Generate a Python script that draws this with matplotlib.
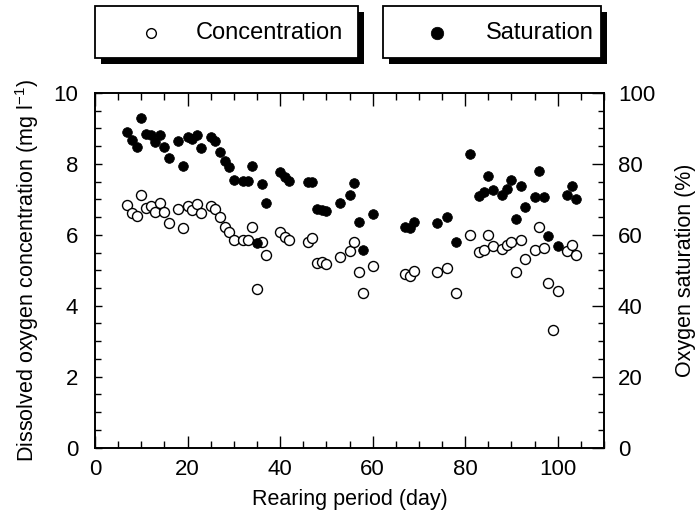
import matplotlib
matplotlib.use("Agg")
import matplotlib.pyplot as plt
import numpy as np
from matplotlib.patches import Rectangle
from matplotlib.lines import Line2D
from matplotlib.ticker import MultipleLocator

plt.rcParams['font.family'] = ['Liberation Sans', 'DejaVu Sans']
plt.rcParams['mathtext.default'] = 'regular'

days = [7, 8, 9, 10, 11, 12, 13, 14, 15, 16, 18, 19, 20, 21, 22, 23, 25, 26, 27, 28,
        29, 30, 32, 33, 34, 35, 36, 37, 40, 41, 42, 46, 47, 48, 49, 50, 53, 55, 56, 57,
        58, 60, 67, 68, 69, 74, 76, 78, 81, 83, 84, 85, 86, 88, 89, 90, 91, 92, 93, 95,
        96, 97, 98, 99, 100, 102, 103, 104]
concentration = [6.84, 6.61, 6.52, 7.13, 6.75, 6.82, 6.63, 6.89, 6.63, 6.33, 6.72, 6.18,
                 6.80, 6.70, 6.87, 6.61, 6.82, 6.72, 6.50, 6.23, 6.09, 5.84, 5.84, 5.84,
                 6.22, 4.48, 5.81, 5.43, 6.07, 5.95, 5.84, 5.81, 5.91, 5.20, 5.23, 5.17,
                 5.37, 5.53, 5.81, 4.94, 4.36, 5.13, 4.90, 4.83, 4.99, 4.94, 5.06, 4.37,
                 6.00, 5.51, 5.58, 6.00, 5.69, 5.60, 5.72, 5.81, 4.95, 5.86, 5.33, 5.58,
                 6.21, 5.64, 4.64, 3.32, 4.42, 5.53, 5.72, 5.44]
saturation = [89.1, 86.8, 84.9, 92.9, 88.5, 88.2, 86.3, 88.2, 84.9, 81.6, 86.6, 79.4,
              87.7, 87.0, 88.2, 84.6, 87.7, 86.6, 83.3, 80.7, 79.0, 75.5, 75.3, 75.3,
              79.4, 57.7, 74.3, 69.1, 77.8, 76.4, 75.2, 75.0, 75.0, 67.2, 66.9, 66.6,
              69.1, 71.3, 74.7, 63.7, 55.8, 65.8, 62.3, 61.9, 63.7, 63.3, 65.0, 58.1,
              82.8, 71.0, 72.0, 76.6, 72.5, 71.1, 72.9, 75.5, 64.4, 73.8, 67.8, 70.6,
              78.1, 70.6, 59.7, np.nan, 56.7, 71.3, 73.8, 70.0]

legend_labels = ["Concentration", "Saturation"]

W, H = 698, 516
fig = plt.figure(figsize=(W / 100, H / 100), dpi=100)
ax = fig.add_axes([95 / W, 1 - 447.5 / H, (604 - 95) / W, (447.5 - 93) / H])
ax2 = ax.twinx()

ax.plot(days, concentration, 'o', mfc='white', mec='black', ms=7.2, mew=1.0,
        linestyle='none', zorder=3, clip_on=False)
ax2.plot(days, saturation, 'o', mfc='black', mec='black', ms=7.0, mew=0.5,
         linestyle='none', zorder=3, clip_on=False)

ax.set_xlim(0, 110)
ax.set_ylim(0, 10)
ax2.set_ylim(0, 100)

ax.xaxis.set_major_locator(MultipleLocator(20))
ax.xaxis.set_minor_locator(MultipleLocator(5))
ax.yaxis.set_major_locator(MultipleLocator(2))
ax.yaxis.set_minor_locator(MultipleLocator(0.5))
ax2.yaxis.set_major_locator(MultipleLocator(20))
ax2.yaxis.set_minor_locator(MultipleLocator(5))

ax.tick_params(axis='both', which='both', direction='in', width=1.0, labelsize=16,
               top=True, right=False)
ax.tick_params(axis='x', which='major', length=9, pad=8)
ax.tick_params(axis='x', which='minor', length=5)
ax.tick_params(axis='y', which='major', length=5, pad=12)
ax.tick_params(axis='y', which='minor', length=4)
ax2.tick_params(axis='y', which='both', direction='in', width=1.0, labelsize=16)
ax2.tick_params(axis='y', which='major', length=9, pad=10)
ax2.tick_params(axis='y', which='minor', length=4)

for a in (ax, ax2):
    for s in a.spines.values():
        s.set_linewidth(1.2)

ax.set_xlabel("Rearing period (day)", fontsize=15.5, labelpad=7)
ax.set_ylabel("Dissolved oxygen concentration (mg l$^{-1}$)", fontsize=15.5, labelpad=9)
ax2.set_ylabel("Oxygen saturation (%)", fontsize=15.5, labelpad=14)


def fig_rect(x0, y0, x1, y1, **kw):
    return Rectangle((x0 / W, 1 - y1 / H), (x1 - x0) / W, (y1 - y0) / H,
                     transform=fig.transFigure, **kw)


boxes = [(95, 6, 358, 58), (383, 6, 601, 58)]
marker_x = [151, 437]
text_x = [196, 486]
styles = [dict(mfc='white', mec='black', ms=7, mew=1.0),
          dict(mfc='black', mec='black', ms=9, mew=0.5)]
off = 6
for (x0, y0, x1, y1), mx, tx, st, lab in zip(boxes, marker_x, text_x, styles, legend_labels):
    fig.add_artist(fig_rect(x0 + off, y0 + off, x1 + off, y1 + off,
                            facecolor='black', edgecolor='black', lw=0))
    fig.add_artist(fig_rect(x0, y0, x1, y1, facecolor='white', edgecolor='black', lw=1.3))
    fig.add_artist(Line2D([mx / W], [1 - 33 / H], marker='o', linestyle='none',
                          transform=fig.transFigure, **st))
    fig.text(tx / W, 1 - 33 / H, lab, fontsize=17, ha='left', va='center')

fig.savefig("out.png", dpi=100)
